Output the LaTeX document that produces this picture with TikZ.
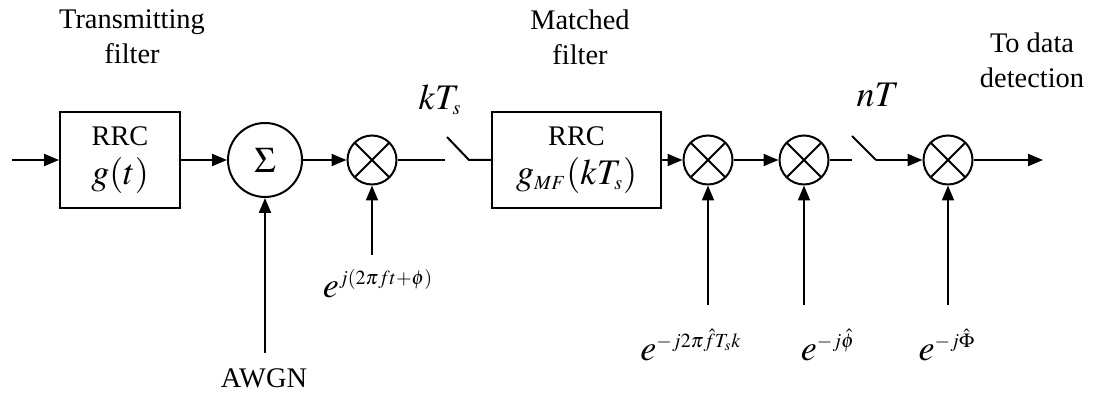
\documentclass[tikz,border=0pt]{standalone}
\usepackage{mathptmx}
\usepackage[no-math]{fontspec}
\setmainfont{Liberation Serif}
\DeclareMathSizes{18}{18}{10}{7.5}
\usetikzlibrary{arrows.meta}

\begin{document}
\begin{tikzpicture}[
			x=0.5pt, y=-0.5pt,
			every node/.style={font=\fontsize{14.2}{17.5}\selectfont},
			block/.style={
				rectangle, draw, line width=1pt, align=center,
				minimum width=60pt, minimum height=48pt, inner sep=0pt
			},
			adder/.style={circle, draw, line width=1pt, minimum size=37pt, inner sep=0pt},
			mixer/.style={
				circle, draw, line width=1pt, minimum size=24.5pt, inner sep=0pt,
				path picture={
					\draw[line width=1pt] (path picture bounding box.north west) -- (path picture bounding box.south east)
						(path picture bounding box.north east) -- (path picture bounding box.south west);
				}
			},
			caption/.style={align=center},
			sig/.style={font=\fontsize{18}{20}\selectfont},
			wire/.style={line width=1pt},
			arrow/.style={
				-{Triangle[length=7.5pt,width=6pt]},
				line width=1pt
			}
			]
			\useasboundingbox (0,0) rectangle (1097,394);
			
			% forward path
			\coordinate (input) at (12,160);
			\node[block] (tx) at (120,160) {RRC\\[2pt] {\fontsize{18}{20}\selectfont $g(t)$}};
			\node[adder] (sum) at (265,160) {\fontsize{18}{20}\selectfont $\Sigma$};
			\node[mixer] (mix1) at (372,160) {};
			\coordinate (sw1in) at (445,160);
			\coordinate (sw1top) at (447,137);
			\coordinate (sw1out) at (469,160);
			\node[block, minimum width=84.5pt] (mf) at (576.5,160) {RRC\\[2pt] {\fontsize{18}{20}\selectfont $g_{MF}(kT_s)$}};
			\node[mixer] (mix2) at (708,160) {};
			\node[mixer] (mix3) at (804,160) {};
			\coordinate (sw2in) at (852,160);
			\coordinate (sw2top) at (852,136);
			\coordinate (sw2out) at (876,160);
			\node[mixer] (mix4) at (948,160) {};
			\coordinate (output) at (1043,160);
			
			\draw[arrow] (input) -- (tx);
			\draw[arrow] (tx) -- (sum);
			\draw[arrow] (sum) -- (mix1);
			\draw[wire] (mix1) -- (sw1in);
			\draw[wire] (sw1top) -- (sw1out) -- (mf);
			\draw[arrow] (mf) -- (mix2);
			\draw[arrow] (mix2) -- (mix3);
			\draw[wire] (mix3) -- (sw2in);
			\draw[wire] (sw2top) -- (sw2out);
			\draw[arrow] (sw2out) -- (mix4);
			\draw[arrow] (mix4) -- (output);
			
			% side inputs
			\coordinate (noise) at (265,353);
			\coordinate (carrier) at (372,255);
			\coordinate (freq) at (708,305);
			\coordinate (phase) at (804,305);
			\coordinate (symph) at (948,305);
			\node (awgn) at (264,378) {AWGN};
			\node[sig] (carlab) at (378,284) {$e^{j(2\pi f t+\phi)}$};
			\node[sig] (freqlab) at (691,345) {$e^{-j2\pi\hat{f}T_sk}$};
			\node[sig] (phaselab) at (828,345) {$e^{-j\hat{\phi}}$};
			\node[sig] (symphlab) at (947,345) {$e^{-j\hat{\Phi}}$};
			
			\draw[arrow] (noise) -- (sum);
			\draw[arrow] (carrier) -- (mix1);
			\draw[arrow] (freq) -- (mix2);
			\draw[arrow] (phase) -- (mix3);
			\draw[arrow] (symph) -- (mix4);
			
			% labels
			\node[caption] (txcap) at (132,37) {Transmitting\\filter};
			\node[caption] (mfcap) at (580,37) {Matched\\filter};
			\node[caption] (outcap) at (1032,60) {To data\\detection};
			\node[sig] (sw1lab) at (440,100) {$kT_s$};
			\node[sig] (sw2lab) at (878,95) {$nT$};
			
		\end{tikzpicture}
\end{document}
